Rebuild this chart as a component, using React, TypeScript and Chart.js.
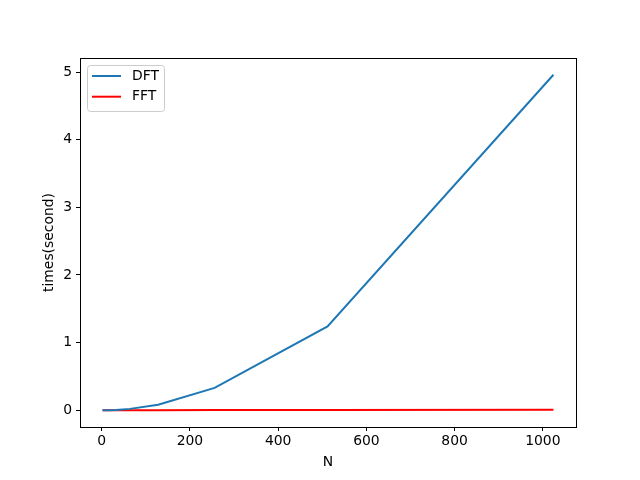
import React, { useEffect, useRef } from "react";
import { Chart, registerables } from "chart.js";

Chart.register(...registerables);

const sizes = [2, 4, 8, 16, 32, 64, 128, 256, 512, 1024];
const dftTimes = [0.0, 0.0001, 0.0003, 0.0012, 0.005, 0.02, 0.082, 0.33, 1.24, 4.96];
const fftTimes = [0.0, 0.0, 0.0001, 0.0001, 0.0002, 0.0004, 0.0008, 0.0016, 0.0033, 0.0068];
const xTicks = [0, 200, 400, 600, 800, 1000];
const yTicks = [0, 1, 2, 3, 4, 5];
const seriesNames = ["DFT", "FFT"];
const seriesColors = ["#1f77b4", "#ff0000"];
const xTitle = "N";
const yTitle = "times(second)";

const FONT = "'DejaVu Sans', sans-serif";
const FS = 13.9;

export default function App() {
  const ref = useRef<HTMLCanvasElement>(null);
  useEffect(() => {
    document.body.style.margin = "0";
    const ctx = ref.current!.getContext("2d")!;
    const frame = {
      id: "frame",
      afterDraw(chart: any) {
        const { ctx, chartArea: a } = chart;
        ctx.save();
        ctx.strokeStyle = "#000";
        ctx.lineWidth = 1;
        ctx.strokeRect(Math.round(a.left) + 0.5, Math.round(a.top) + 0.5, Math.round(a.right - a.left), Math.round(a.bottom - a.top));
        // axis titles
        ctx.fillStyle = "#000";
        ctx.font = `${FS}px ${FONT}`;
        ctx.textAlign = "center";
        ctx.textBaseline = "middle";
        ctx.fillText(xTitle, (a.left + a.right) / 2, 462);
        ctx.save();
        ctx.translate(49, (a.top + a.bottom) / 2);
        ctx.rotate(-Math.PI / 2);
        ctx.fillText(yTitle, 0, 0);
        ctx.restore();
        // legend
        const x0 = a.left + 7, y0 = a.top + 7, w = 77, h = 46;
        ctx.beginPath();
        ctx.roundRect(x0 + 0.5, y0 + 0.5, w, h, 3);
        ctx.fillStyle = "rgba(255,255,255,0.8)";
        ctx.fill();
        ctx.strokeStyle = "#cccccc";
        ctx.lineWidth = 1;
        ctx.stroke();
        ctx.textAlign = "left";
        seriesNames.forEach((n, i) => {
          const yy = y0 + 11 + i * 20.7;
          ctx.strokeStyle = seriesColors[i];
          ctx.lineWidth = 2;
          ctx.beginPath();
          ctx.moveTo(x0 + 5, yy);
          ctx.lineTo(x0 + 34, yy);
          ctx.stroke();
          ctx.fillStyle = "#000";
          ctx.fillText(n, x0 + 45, yy);
        });
        ctx.restore();
      },
    };
    const chart = new Chart(ctx, {
      type: "line",
      data: {
        datasets: seriesNames.map((n, i) => ({
          label: n,
          data: sizes.map((s, j) => ({ x: s, y: (i === 0 ? dftTimes : fftTimes)[j] })),
          borderColor: seriesColors[i],
          backgroundColor: seriesColors[i],
          borderWidth: 2,
          pointRadius: 0,
          tension: 0,
        })),
      },
      options: {
        animation: false,
        responsive: false,
        layout: { padding: { left: 0, right: 64, top: 58, bottom: 0 } },
        plugins: { legend: { display: false }, tooltip: { enabled: false } },
        scales: {
          x: {
            type: "linear",
            min: -49.1,
            max: 1075.1,
            afterBuildTicks: (s: any) => { s.ticks = xTicks.map((v) => ({ value: v })); },
            afterFit: (s: any) => { s.height = 53; },
            grid: { display: true, drawOnChartArea: false, drawTicks: true, tickLength: 4, color: "#000" },
            border: { display: true, color: "#000" },
            ticks: { color: "#000", font: { family: FONT, size: FS }, padding: 2, maxRotation: 0, callback: (v: any) => String(v) },
          },
          y: {
            type: "linear",
            min: -0.248,
            max: 5.208,
            afterBuildTicks: (s: any) => { s.ticks = yTicks.map((v) => ({ value: v })); },
            afterFit: (s: any) => { s.width = 80; },
            grid: { display: true, drawOnChartArea: false, drawTicks: true, tickLength: 4, color: "#000" },
            border: { display: true, color: "#000" },
            ticks: { color: "#000", font: { family: FONT, size: FS }, padding: 4, callback: (v: any) => String(v) },
          },
        },
      },
      plugins: [frame],
    });
    return () => chart.destroy();
  }, []);
  return (
    <div style={{ width: 640, height: 480 }}>
      <canvas ref={ref} width={640} height={480} style={{ width: 640, height: 480 }} />
    </div>
  );
}
